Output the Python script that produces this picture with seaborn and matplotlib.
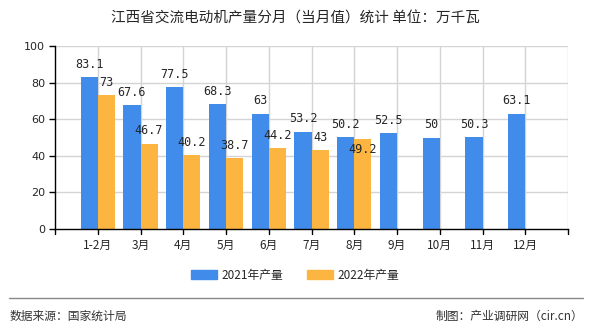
import matplotlib
matplotlib.use("Agg")
import matplotlib.pyplot as plt
import seaborn as sns
import pandas as pd
from matplotlib.lines import Line2D

months = ["1-2月", "3月", "4月", "5月", "6月", "7月", "8月", "9月", "10月", "11月", "12月"]
v2021 = [83.1, 67.6, 77.5, 68.3, 63, 53.2, 50.2, 52.5, 50, 50.3, 63.1]
v2022 = [73, 46.7, 40.2, 38.7, 44.2, 43, 49.2]
series = ["2021年产量", "2022年产量"]
colors = ["#418BEB", "#FBB540"]
yticks = [0, 20, 40, 60, 80, 100]

rows = []
for m, v in zip(months, v2021):
    rows.append({"month": m, "series": series[0], "value": v})
for m, v in zip(months[:len(v2022)], v2022):
    rows.append({"month": m, "series": series[1], "value": v})
df = pd.DataFrame(rows)

sns.set_theme(style="white")
plt.rcParams['font.family'] = ['Noto Sans CJK SC', 'DejaVu Sans']

fig = plt.figure(figsize=(5.9, 3.3), dpi=100)
L, R, T, B = 55, 568, 46, 229
ax = fig.add_axes([L/590, 1-B/330, (R-L)/590, (B-T)/330])

sns.barplot(data=df, x="month", y="value", hue="series", order=months,
            hue_order=series, palette=colors, width=0.8, ax=ax,
            saturation=1, legend=False, dodge=True, linewidth=0)

n = len(months)
ax.set_ylim(0, 100)
ax.set_xlim(-1, n)
ax.set_yticks(yticks)
ax.set_yticklabels([str(t) for t in yticks], fontsize=8, family=['DejaVu Sans'])
ax.set_xlabel("")
ax.set_ylabel("")

# grid
for t in yticks[1:]:
    ax.axhline(t, color="#d4d4d4", lw=1, zorder=0)
for i in range(n + 1):
    ax.axvline(i, color="#d4d4d4", lw=1, zorder=0)
ax.set_axisbelow(True)

for s in ["top", "right"]:
    ax.spines[s].set_visible(False)
for s in ["left", "bottom"]:
    ax.spines[s].set_color("black")
    ax.spines[s].set_linewidth(1)

ax.set_xticks(range(n))
ax.set_xticklabels(months, fontsize=8.5)
ax.tick_params(axis="x", length=0, pad=7)
ax.tick_params(axis="y", length=4, width=1, direction="out", left=True,
               color="black", pad=3)
for i in range(-1, n + 1):
    ax.plot([i, i], [0, -2.5], color="black", lw=1, clip_on=False)

# value labels
blue_bars = list(ax.containers[0])
orange_bars = list(ax.containers[1])
blue_h = {}
for bar in blue_bars:
    h = bar.get_height()
    if h != h or h == 0:
        continue
    x = bar.get_x() + bar.get_width() / 2
    blue_h[round(bar.get_x() + bar.get_width(), 2)] = h
    ax.text(x, h + 3.5, f"{h:g}", ha="center", va="bottom", fontsize=8.5,
            family=['DejaVu Sans Mono'], zorder=5)
for bar in orange_bars:
    h = bar.get_height()
    if h != h or h == 0:
        continue
    x = bar.get_x() + bar.get_width() / 2
    bh = blue_h.get(round(bar.get_x(), 2))
    if bh is not None and abs(bh - h) < 7:
        ax.text(x, h - 2, f"{h:g}", ha="center", va="top", fontsize=8.5,
                family=['DejaVu Sans Mono'], zorder=5)
    else:
        ax.text(x, h + 3.5, f"{h:g}", ha="center", va="bottom", fontsize=8.5,
                family=['DejaVu Sans Mono'], zorder=5)

fig.text(0.5, 1 - 19/330, "江西省交流电动机产量分月（当月值）统计 单位：万千瓦",
         ha="center", va="center", fontsize=10.5)

handles = [plt.Rectangle((0, 0), 1, 1, color=c) for c in colors]
fig.legend(handles, series, loc="center", bbox_to_anchor=(0.5, 1 - 275/330),
           ncol=2, frameon=False, fontsize=8.5, handlelength=2.2, handleheight=0.9,
           columnspacing=2.0, handletextpad=0.4)

fig.add_artist(Line2D([9/590, 583/590], [1 - 298/330, 1 - 298/330],
                      color="#888888", lw=1))
fig.text(10/590, 1 - 316/330, "数据来源：国家统计局", fontsize=8.5, ha="left",
         va="center", color="#333333")
fig.text(583/590, 1 - 316/330, "制图：产业调研网（cir.cn）", fontsize=8.5,
         ha="right", va="center", color="#333333")

fig.savefig("out.png", dpi=100)
